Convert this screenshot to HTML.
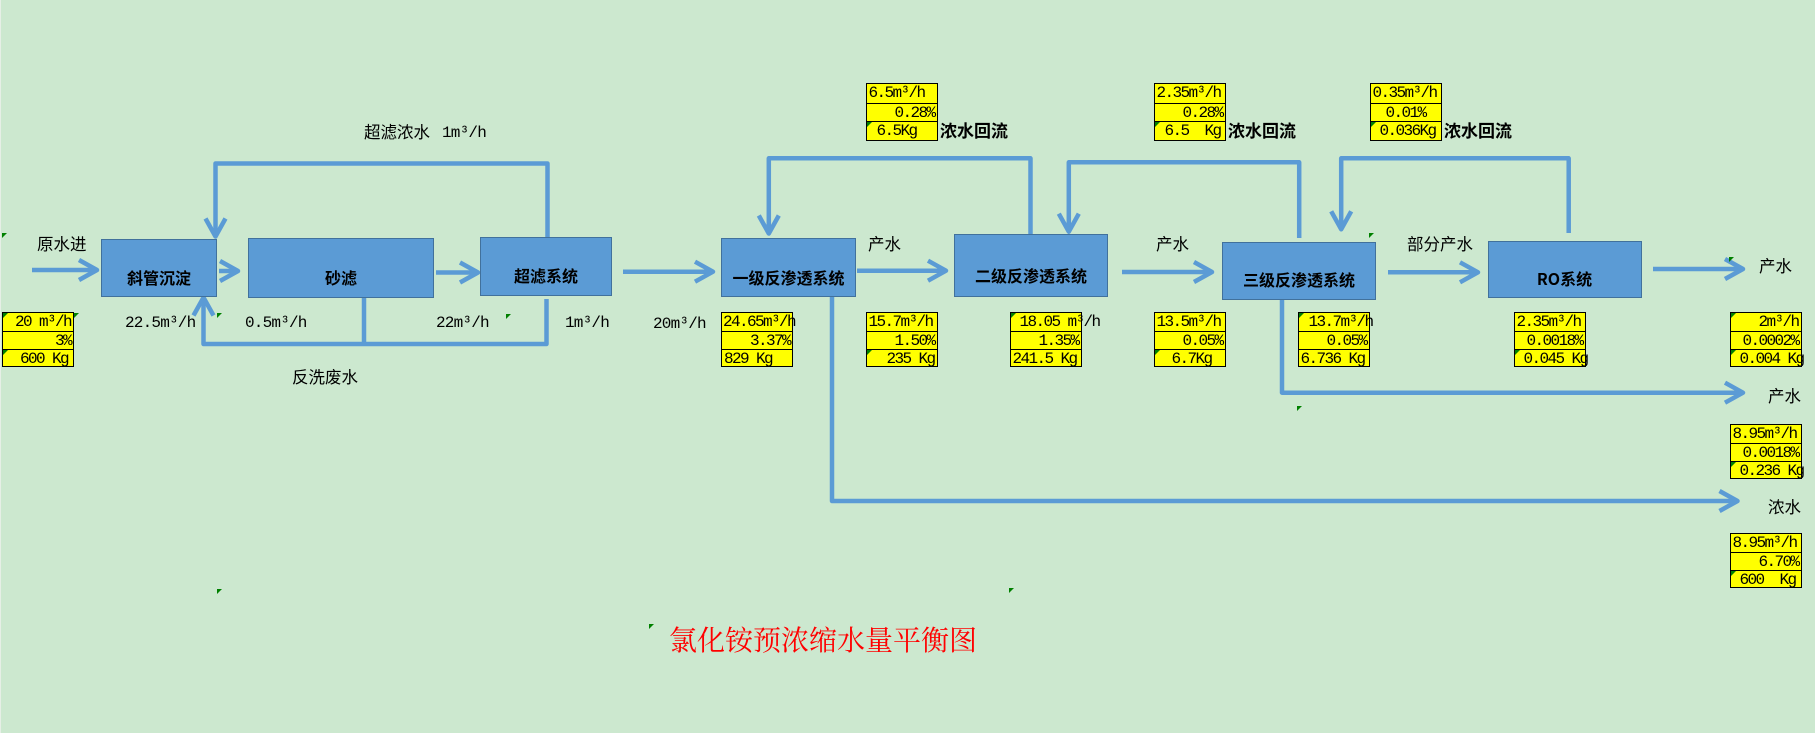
<!DOCTYPE html>
<html><head><meta charset="utf-8">
<style>
html,body{margin:0;padding:0;}
body{width:1815px;height:733px;background:#cce8cf;position:relative;overflow:hidden;font-family:"Liberation Sans","Noto Sans CJK SC",sans-serif;}
.edge{position:absolute;left:0;top:0;width:1px;height:733px;background:#e6efe6;}
svg{position:absolute;left:0;top:0;}
.bx{position:absolute;background:#5b9bd5;border:1px solid #41719c;box-sizing:border-box;}
.bt{position:absolute;left:0;right:0;text-align:center;font-family:"Noto Sans CJK SC",sans-serif;font-weight:bold;font-size:16px;line-height:20px;color:#000;white-space:nowrap;}
.t{position:absolute;white-space:nowrap;line-height:20px;height:20px;color:#000;font-family:"Liberation Sans","Noto Sans CJK SC",sans-serif;font-size:16.5px;}
.m{position:absolute;white-space:nowrap;line-height:20px;height:20px;color:#000;font-family:"Liberation Mono",monospace;font-size:16px;letter-spacing:-0.8px;}
.b{font-weight:bold;font-size:17px;}
.tb{position:absolute;width:72px;background:#ffff00;border:1px solid #000;box-sizing:border-box;}
.r{position:relative;height:18px;box-sizing:border-box;font-family:"Liberation Mono",monospace;font-size:16px;letter-spacing:-1.6px;line-height:19px;padding:0 2px;white-space:pre;color:#000;}
.r+.r{border-top:1px solid #000;}
.tb.h57 .r{height:18.7px;}
.R{text-align:right;}
.C{text-align:center;}
.g{position:absolute;width:0;height:0;border-top:5px solid #008000;border-right:5px solid transparent;}
.r .g{left:0;top:0;}
.title{position:absolute;left:669px;top:624px;font-family:"Liberation Serif","Noto Serif CJK SC",serif;font-size:28px;line-height:36px;color:#ff0000;white-space:nowrap;}
</style></head><body>
<div class="edge"></div>

<svg width="1815" height="733" viewBox="0 0 1815 733">
<g fill="none" stroke="#5b9bd5" stroke-width="4.5" stroke-linejoin="round" stroke-linecap="butt">
<line x1="32" y1="270" x2="95" y2="270"/><polyline points="79,260 97,270 79,280"/>
<line x1="219" y1="271" x2="236" y2="271"/><polyline points="220,261 238,271 220,281"/>
<line x1="436" y1="272.5" x2="476" y2="272.5"/><polyline points="460,262.5 478,272.5 460,282.5"/>
<path d="M547.5,237 V163.5 H215.5 V234"/><polyline points="205.5,218.5 215.5,236.5 225.5,218.5"/>
<path d="M364,298 V344"/>
<path d="M546.5,299 V344 H203.5 V300"/><polyline points="193.5,315.5 203.5,297.5 213.5,315.5"/>
<line x1="623" y1="271.7" x2="711" y2="271.7"/><polyline points="695,261.7 713,271.7 695,281.7"/>
<line x1="857" y1="270.7" x2="944" y2="270.7"/><polyline points="928,260.7 946,270.7 928,280.7"/>
<line x1="1122" y1="272" x2="1210" y2="272"/><polyline points="1194,262 1212,272 1194,282"/>
<line x1="1388" y1="272.3" x2="1476" y2="272.3"/><polyline points="1460,262.3 1478,272.3 1460,282.3"/>
<line x1="1653" y1="269" x2="1741" y2="269"/><polyline points="1725,259 1743,269 1725,279"/>
<path d="M1030.5,234 V158.3 H768.8 V231"/><polyline points="758.8,215.5 768.8,233.5 778.8,215.5"/>
<path d="M1299.2,238 V162.3 H1068.8 V229"/><polyline points="1058.8,213.7 1068.8,231.7 1078.8,213.7"/>
<path d="M1568.7,233 V158.3 H1341.2 V227"/><polyline points="1331.2,211.3 1341.2,229.3 1351.2,211.3"/>
<path d="M1282,299 V392.7 H1741"/><polyline points="1725,382.7 1743,392.7 1725,402.7"/>
<path d="M832,297 V501 H1735"/><polyline points="1719.5,491 1737.5,501 1719.5,511"/>
</g>
</svg>

<div class="bx" style="left:101px;top:239px;width:116px;height:58px;"><div class="bt" style="top:27px;">斜管沉淀</div></div>
<div class="bx" style="left:248px;top:238px;width:186px;height:60px;"><div class="bt" style="top:28px;">砂滤</div></div>
<div class="bx" style="left:480px;top:237px;width:132px;height:59px;"><div class="bt" style="top:27px;">超滤系统</div></div>
<div class="bx" style="left:721px;top:238px;width:135px;height:59px;"><div class="bt" style="top:28px;">一级反渗透系统</div></div>
<div class="bx" style="left:954px;top:234px;width:154px;height:63px;"><div class="bt" style="top:30px;">二级反渗透系统</div></div>
<div class="bx" style="left:1222px;top:241.5px;width:154px;height:58px;"><div class="bt" style="top:26.5px;">三级反渗透系统</div></div>
<div class="bx" style="left:1487.5px;top:240.5px;width:154px;height:57px;"><div class="bt" style="top:26.5px;">RO系统</div></div>

<div class="t" style="left:364px;top:123px;">超滤浓水</div>
<div class="m" style="left:442px;top:123px;">1m³/h</div>
<div class="t" style="left:37px;top:235px;">原水进</div>
<div class="m" style="left:125px;top:313px;">22.5m³/h</div>
<div class="m" style="left:245px;top:313px;">0.5m³/h</div>
<div class="m" style="left:436px;top:313px;">22m³/h</div>
<div class="m" style="left:565px;top:313px;">1m³/h</div>
<div class="t" style="left:292px;top:368px;">反洗废水</div>
<div class="m" style="left:653px;top:314px;">20m³/h</div>
<div class="t" style="left:868px;top:235px;">产水</div>
<div class="t" style="left:1156px;top:235px;">产水</div>
<div class="t" style="left:1407px;top:235px;">部分产水</div>
<div class="t" style="left:1759px;top:257px;">产水</div>
<div class="t" style="left:1768px;top:387px;">产水</div>
<div class="t" style="left:1768px;top:498px;">浓水</div>
<div class="t b" style="left:940px;top:122px;">浓水回流</div>
<div class="t b" style="left:1228px;top:122px;">浓水回流</div>
<div class="t b" style="left:1444px;top:122px;">浓水回流</div>

<div class="tb" style="left:2px;top:312px;height:55px;">
 <div class="r R"><span class="g"></span>20 m³/h</div>
 <div class="r R">3%</div>
 <div class="r R" style="padding-right:5px;"><span class="g"></span>600 Kg</div>
</div>

<div class="tb h57" style="left:865.5px;top:83px;height:57.5px;">
 <div class="r">6.5m³/h</div>
 <div class="r R">0.28%</div>
 <div class="r" style="padding-left:10px;"><span class="g"></span>6.5Kg</div>
</div>
<div class="tb h57" style="left:1153.5px;top:83px;height:57.5px;">
 <div class="r">2.35m³/h</div>
 <div class="r R">0.28%</div>
 <div class="r" style="padding-left:10px;"><span class="g"></span>6.5  Kg</div>
</div>
<div class="tb h57" style="left:1369.5px;top:83px;height:57.5px;">
 <div class="r">0.35m³/h</div>
 <div class="r C">0.01%</div>
 <div class="r" style="padding-left:9px;"><span class="g"></span>0.036Kg</div>
</div>

<div class="tb" style="left:721px;top:312px;height:55px;">
 <div class="r" style="padding-left:1px;">24.65m³/h</div>
 <div class="r R">3.37%</div>
 <div class="r">829 Kg</div>
</div>
<div class="tb" style="left:865.5px;top:312px;height:55px;">
 <div class="r">15.7m³/h</div>
 <div class="r R">1.50%</div>
 <div class="r R"><span class="g"></span>235 Kg</div>
</div>
<div class="tb" style="left:1009.5px;top:312px;height:55px;">
 <div class="r" style="padding-left:9px;"><span class="g"></span>18.05 m³/h</div>
 <div class="r R">1.35%</div>
 <div class="r">241.5 Kg</div>
</div>
<div class="tb" style="left:1153.5px;top:312px;height:55px;">
 <div class="r">13.5m³/h</div>
 <div class="r R">0.05%</div>
 <div class="r" style="padding-left:17px;"><span class="g"></span>6.7Kg</div>
</div>
<div class="tb" style="left:1297.5px;top:312px;height:55px;">
 <div class="r" style="padding-left:10px;"><span class="g"></span>13.7m³/h</div>
 <div class="r R">0.05%</div>
 <div class="r">6.736 Kg</div>
</div>
<div class="tb" style="left:1513.5px;top:312px;height:55px;">
 <div class="r">2.35m³/h</div>
 <div class="r R">0.0018%</div>
 <div class="r" style="padding-left:9px;"><span class="g"></span>0.045 Kg</div>
</div>
<div class="tb" style="left:1729.5px;top:312px;height:55px;">
 <div class="r R"><span class="g"></span>2m³/h</div>
 <div class="r R">0.0002%</div>
 <div class="r" style="padding-left:9px;"><span class="g"></span>0.004 Kg</div>
</div>
<div class="tb" style="left:1729.5px;top:424px;height:55px;">
 <div class="r">8.95m³/h</div>
 <div class="r R">0.0018%</div>
 <div class="r" style="padding-left:9px;"><span class="g"></span>0.236 Kg</div>
</div>
<div class="tb" style="left:1729.5px;top:533px;height:55px;">
 <div class="r">8.95m³/h</div>
 <div class="r R">6.70%</div>
 <div class="r" style="padding-left:9px;"><span class="g"></span>600  Kg</div>
</div>

<div class="g" style="left:2px;top:233px;"></div>
<div class="g" style="left:74px;top:313px;"></div>
<div class="g" style="left:217px;top:313px;"></div>
<div class="g" style="left:506px;top:314px;"></div>
<div class="g" style="left:1369px;top:233px;"></div>
<div class="g" style="left:1729px;top:257px;"></div>
<div class="g" style="left:1297px;top:406px;"></div>
<div class="g" style="left:649px;top:624px;"></div>
<div class="g" style="left:1009px;top:588px;"></div>
<div class="g" style="left:217px;top:589px;"></div>

<div class="title">氯化铵预浓缩水量平衡图</div>
</body></html>
